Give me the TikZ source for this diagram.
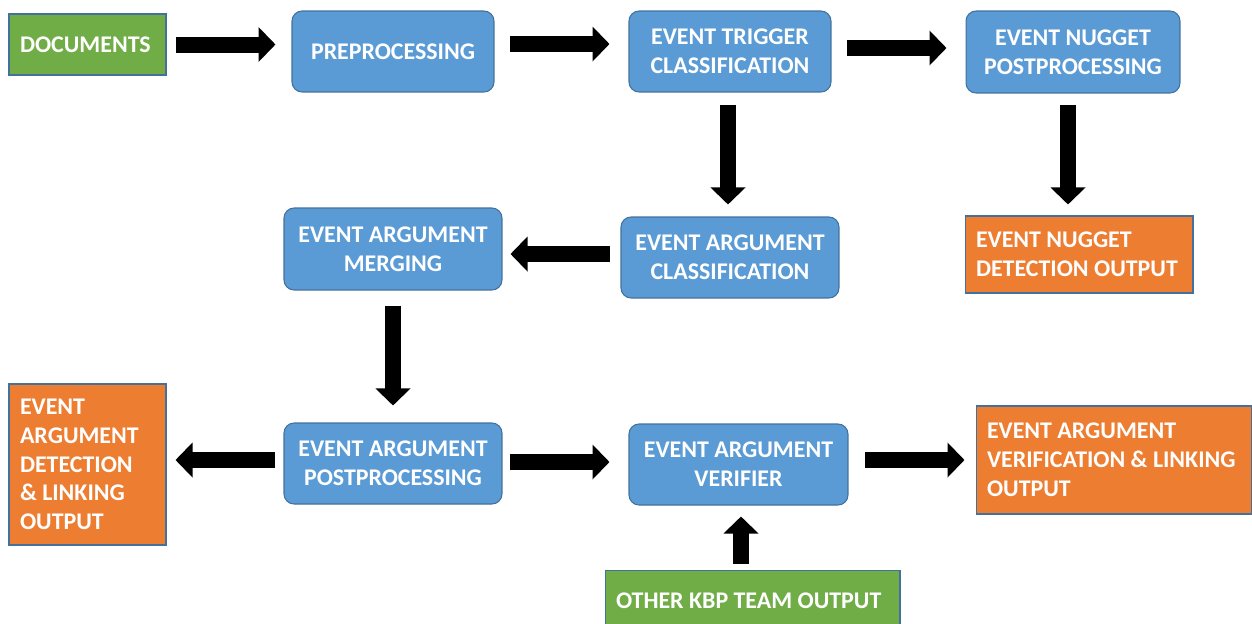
\documentclass[tikz,border=0pt]{standalone}
\usepackage{fontspec}
\setmainfont{Carlito}
\usepackage{tikz}
\usetikzlibrary{arrows.meta}
\usetikzlibrary{positioning}
\definecolor{boxblue}{HTML}{5B9BD5}
\definecolor{boxedge}{HTML}{41719C}
\definecolor{boxgreen}{HTML}{70AD47}
\definecolor{boxorange}{HTML}{ED7D31}
\tikzset{
  every node/.style={font=\fontsize{13.6}{16.4}\selectfont\bfseries,text=white},
  stage/.style={draw=boxedge,line width=0.6pt,fill=boxblue,rounded corners=0.2cm,align=center,minimum width=4.36cm,minimum height=1.62cm,inner sep=2pt},
  outbox/.style={draw=boxedge,line width=0.6pt,fill=boxorange,align=flush left,inner xsep=0.22cm,inner ysep=2pt},
  inbox/.style={outbox,fill=boxgreen},
  bigarrow/.style={line width=0.32cm,-{Triangle[length=0.34cm,width=0.68cm]}}
}
\begin{document}
\begin{tikzpicture}[x=0.02cm,y=-0.02cm]
  \useasboundingbox (0,0) rectangle (1252,623);
  \node[inbox,text width=2.7cm,minimum height=1.22cm] (docs) at (87.5,44.5) {DOCUMENTS};
  \node[stage,minimum width=4.04cm] (prep) at (393,51.5) {PREPROCESSING};
  \node[stage,minimum width=4.04cm] (trig) at (730,51.5) {EVENT TRIGGER\\CLASSIFICATION};
  \node[stage,minimum width=4.28cm,minimum height=1.64cm] (nugpost) at (1073,52) {EVENT NUGGET\\POSTPROCESSING};
  \node[outbox,text width=4.12cm,minimum height=1.54cm] (nugout) at (1079,254.5) {EVENT NUGGET\\DETECTION OUTPUT};
  \node[stage] (argcls) at (730,257.5) {EVENT ARGUMENT\\CLASSIFICATION};
  \node[stage,minimum height=1.64cm] (argmerge) at (393,249) {EVENT ARGUMENT\\MERGING};
  \node[stage] (argpost) at (393,463.5) {EVENT ARGUMENT\\POSTPROCESSING};
  \node[outbox,text width=2.7cm,minimum height=3.22cm] (argout) at (87.5,464.5) {EVENT\\ARGUMENT\\DETECTION\\\& LINKING\\OUTPUT};
  \node[stage,minimum width=4.38cm] (verif) at (738.5,464.5) {EVENT ARGUMENT\\VERIFIER};
  \node[outbox,text width=5.08cm,minimum height=2.16cm] (verout) at (1114,460) {EVENT ARGUMENT\\VERIFICATION \& LINKING\\OUTPUT};
  \node[inbox,text width=5.46cm,minimum height=1.22cm] (kbp) at (752.5,601) {OTHER KBP TEAM OUTPUT};

  \draw[bigarrow,shorten <=0.18cm,shorten >=0.32cm](docs.east)--(docs.east -| prep.west);
  \draw[bigarrow,shorten <=0.3cm,shorten >=0.38cm]([yshift=0.15cm]prep.east)--([yshift=0.15cm]prep.east -| trig.west);
  \draw[bigarrow,shorten <=0.3cm,shorten >=0.38cm]([yshift=0.07cm]trig.east)--([yshift=0.07cm]trig.east -| nugpost.west);
  \draw[bigarrow,shorten <=0.24cm,shorten >=0.24cm]([xshift=-0.04cm]trig.south)--([xshift=-0.04cm]trig.south |- argcls.north);
  \draw[bigarrow,shorten <=0.22cm,shorten >=0.22cm]([xshift=-0.1cm]nugpost.south)--([xshift=-0.1cm]nugpost.south |- nugout.north);
  \draw[bigarrow,shorten <=0.22cm,shorten >=0.16cm]([yshift=0.07cm]argcls.west)--([yshift=0.07cm]argcls.west -| argmerge.east);
  \draw[bigarrow,shorten <=0.3cm,shorten >=0.34cm](argmerge.south)--(argmerge.south |- argpost.north);
  \draw[bigarrow,shorten <=0.16cm,shorten >=0.18cm]([yshift=0.07cm]argpost.west)--([yshift=0.07cm]argpost.west -| argout.east);
  \draw[bigarrow,shorten <=0.14cm,shorten >=0.38cm]([yshift=0.03cm]argpost.east)--([yshift=0.03cm]argpost.east -| verif.west);
  \draw[bigarrow,shorten <=0.32cm,shorten >=0.22cm]([yshift=0.09cm]verif.east)--([yshift=0.09cm]verif.east -| verout.west);
  \draw[bigarrow,shorten <=0.12cm,shorten >=0.22cm]([xshift=-0.23cm]kbp.north)--([xshift=-0.23cm]kbp.north |- verif.south);
\end{tikzpicture}
\end{document}
